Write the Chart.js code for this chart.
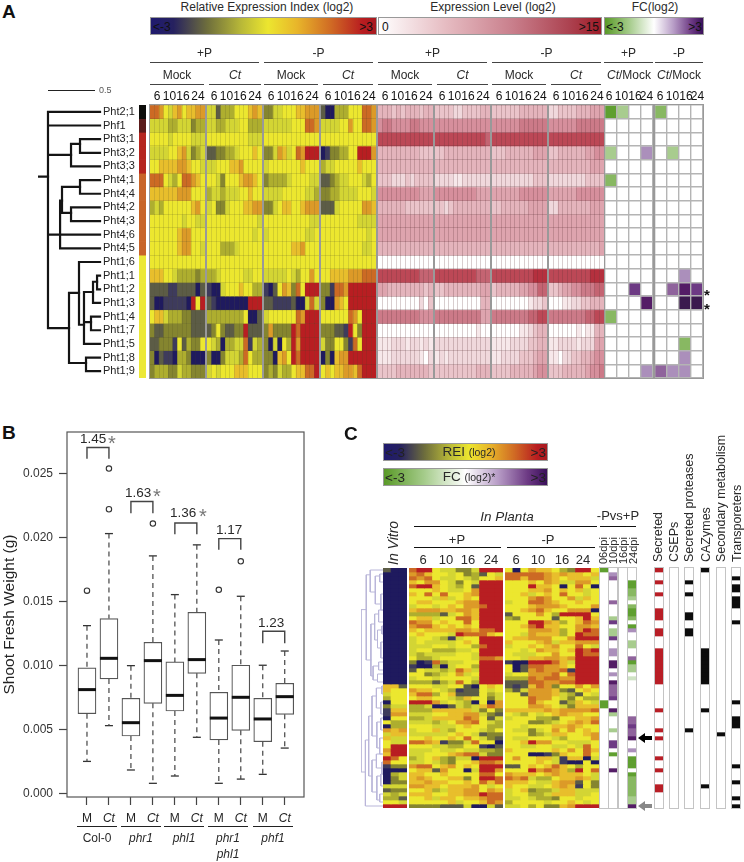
<!DOCTYPE html>
<html>
<head>
<meta charset="utf-8">
<title>Pht expression</title>
<script src="https://cdn.jsdelivr.net/npm/chart.js@4"></script>
<style>
  html, body { margin: 0; background: #fff; }
  #page { position: relative; width: 744px; height: 862px; overflow: hidden; font-family: "Liberation Sans", Arial, sans-serif; color: #2a2a2a; }
  #page canvas { position: absolute; }
  .t { position: absolute; white-space: nowrap; line-height: 1; }
  .ln { position: absolute; background: #444; }
  .bar { position: absolute; box-sizing: border-box; border: 1px solid #999; }
</style>
</head>
<body>
<div id="page"></div>
<script>
// panel A
const phtGenes = ['Pht2;1','Phf1','Pht3;1','Pht3;2','Pht3;3','Pht4;1','Pht4;4','Pht4;2','Pht4;3','Pht4;6','Pht4;5','Pht1;6','Pht1;1','Pht1;2','Pht1;3','Pht1;4','Pht1;7','Pht1;5','Pht1;8','Pht1;9'];
const timeLabels = ['6','10','16','24'];
const replicateCols = ['6a','6b','6c','10a','10b','10c','16a','16b','16c','24a','24b','24c'];
const geneGroups = ['k','m','r','r','r','o','o','o','o','o','o','y','y','y','y','y','y','y','y','y'];

// REI levels, 0 = <-3 ... a = >3
const reiPlusMock = ['998657867788','555544555344','666656666555','555566785345','667777887665','999654699876','777777888666','454666666786','666666656655','666666788666','666666788665','666666666666','777665444434','222211222202','200111110a6a','677544433222','322333333222','223331624336','302110443000','344433544333'];
const reiPlusCt = ['552444666787','554455566444','666666666555','223344566676','556667786666','665366678876','455455566766','563356667788','666666666665','666666666656','666444566666','666666666666','445666665566','100566676644','210000000aaa','444444446002','23632233a222','654044559154','300355549644','565666777666'];
const reiMinusMock = ['335566677888','555555666998','666666666666','335875698aaa','566666667666','344445666655','555566666554','335677667888','666666666655','566666666556','666666778666','666666666666','555556546686','102687396aaa','221111200595','566666698aaa','383333a9aaaa','305064a8aaaa','330786a9aaaa','34354467799a'];
const reiMinusCt = ['200444666998','555566866998','666666666666','01334466aaa8','455666667666','223455666546','334455556665','222566666887','666666665555','666666666656','666666666556','666666666666','667777888999','331998aaaaaa','300876aaaaaa','666666986aaa','333221a63aaa','533663196aaa','030788aaaaaa','676778879aaa'];

// expression levels, 0 = 0 ... a = >15
const expPlusMock = ['444343444344','677666677666','999999999999','444444444333','444444444444','333222323333','666666666555','444444333333','555555555555','555555555555','444444444444','000000000000','999999999888','554444444434','000000000203','777777777666','000000000000','111222122121','111222222102','333344444443'];
const expPlusCt = ['333322333344','666666666666','999999999998','334444444444','444444444444','222211222222','666666666555','332344444444','555555555555','555555555555','444444444444','000000000000','999999999888','334444444455','000000000044','777777777755','000000000100','222222222222','121222222222','333333333444'];
const expMinusMock = ['333333444444','666666777777','999999999999','333444444555','444444444444','222222222333','555555666666','334444445555','555555555555','555555555555','444444444444','000000000000','999999999aaa','344444556688','000000001223','777777778899','000000112344','111122223344','112222333455','333344444566'];
const expMinusCt = ['223333444555','666666777777','999999999999','334444445566','444444444555','222222223333','555555666666','224444444555','555555555555','555555555555','444444444445','000000000000','999999999aaa','334556677788','000112233444','777777778899','000000101144','112222122255','110223344566','333444445667'];

// fold change, '.' = not significant
const fcPlus = ['ac..','....','....','c..p','....','b...','....','....','....','....','....','....','....','..r.','...s','b...','....','....','....','...p'];
const fcMinus = ['b...','....','....','.c..','....','....','....','....','....','....','....','....','..p.','.qsr','..tt','....','....','..b.','..p.','qpp.'];

// dendrogram brackets: x of the stem, top row, bottom row, x end of top arm, x end of bottom arm
const treeA = [[0,5.25,5.25,.104,.104],[.104,.5,16.34,.646,.323],[.104,1.5,1.5,.646,.646],[.104,3.66,3.66,.344,.344],[.344,2.85,4.5,.4375,.646],[.4375,2.5,3.5,.646,.646],[.25,6,7.9,.4375,.344],[.4375,5.5,6.5,.646,.646],[.344,7.5,8.5,.646,.646],[.104,9.5,9.5,.646,.646],[.23,7,10.5,.25,.646],[.323,13.77,18.9,.427,.5],[.427,11.5,16.1,.646,.479],[.479,13.7,17.5,.573,.646],[.573,12.95,14.5,.615,.646],[.615,12.5,13.5,.646,.646],[.479,15.9,15.9,.552,.552],[.552,15.5,16.5,.646,.646],[.5,18.5,19.5,.646,.646]];
const treeC = [[0,10.4,51,.24,.2],[.24,1.7,23,.42,.45],[.42,.5,6,1,.65],[.65,2,9,.85,.9],[.85,1.5,3.5,1,1],[.9,6.5,10.5,1,1],[.45,14,27,.62,.55],[.62,11.5,18,.8,.75],[.8,10.5,13.5,1,1],[.75,15.5,20,.95,.9],[.95,14.5,16.5,1,1],[.9,18.5,22.5,1,1],[.55,24.5,28,.8,.75],[.8,23.5,25.5,1,1],[.75,26.5,28.5,1,1],[.2,43,59.5,.35,1],[.35,37,52,.5,.5],[.5,32,42,.7,.72],[.7,30,35,.95,.9],[.95,29.5,31.5,1,1],[.9,33.5,36.5,1,1],[.72,38.5,45,.9,.85],[.9,37.5,40.5,1,1],[.85,42.5,46.5,1,1],[.5,48,56,.7,.72],[.7,46.5,50,.95,.95],[.95,48.5,51.5,1,1],[.72,52,58,.9,.85],[.9,51.5,54.5,1,1],[.85,56.5,58.5,1,1]];

// panel B
const boxTicks = ['M','Ct','M','Ct','M','Ct','M','Ct','M','Ct'];
const boxPos = [1,2,3,4,5,6,7,8,9,10];
const boxLow = [.00252,.00531,.00185,.00081,.00138,.0044,.00081,.00114,.00151,.00356];
const boxQ1 = [.00624,.00895,.0045,.00705,.00645,.00939,.00419,.00494,.00406,.00619];
const boxMed = [.00812,.01056,.00554,.01038,.00767,.01046,.0059,.00752,.00583,.00757];
const boxQ3 = [.00981,.01366,.00744,.01181,.01028,.01415,.00791,.01002,.00744,.00861];
const boxHigh = [.01311,.02029,.00999,.01855,.01553,.01941,.01199,.0154,.01002,.01113];
const outlierX = [1,2,2,4,7,8];
const outlierY = [.01584,.02219,.02536,.02107,.0159,.01813];
const bracketLeft = [1,3,5,7,9];
const bracketFoot = [.02612,.02188,.02024,.01902,.01173];
const bracketTop = [.027,.02279,.02112,.0199,.01267];
const weightTicks = [0,.005,.01,.015,.02,.025];

// panel C, 60 genes
const inVitro = ['200','000','000','000','000','000','000','000','000','000','000','000','000','000','000','000','000','000','000','000','000','000','000','000','000','000','000','000','000','772','766','566','466','066','355','177','188','066','644','044','878','577','755','655','6aa','8aa','7aa','a96','966','133','000','045','035','033','555','233','545','442','665','aaa'];
const plantaPlus = ['9aa655335aaa','897665634265','989655654667','768865365aaa','9aa765462aaa','666765568aaa','769696678aaa','666575676aaa','677666788aaa','5665676889aa','788877887aaa','444425687aaa','677566997aaa','988676696aaa','899767676aaa','76777788799a','676665a99976','566541566aaa','565555676aaa','5556656649aa','566444556aaa','545555665aaa','644566665998','301945566aaa','100405664aaa','265545975aaa','663456856aaa','566566665aaa','444245964aaa','666556620676','877654122656','799467222645','677665476635','aaa856540608','445002545798','444777775363','555667788532','445777798625','555456889654','666555676644','566754666546','555556765233','667667696532','998713359660','666554466102','555655655443','556667899533','456743550aaa','556543667998','899678676aaa','677286605aa8','776676666996','787667736aa9','778776676979','887767778656','667457788687','777667788a99','667577677899','666667566798','333322250052'];
const plantaMinus = ['606877643aa6','999998787767','997998767775','666768755886','666a77606960','666778676756','667567696656','666898668576','566998766766','666788876668','667897668880','2666864aaaa6','4366662667a7','666aa8746798','6679a7766887','6668887468a9','665877746a99','677888668aaa','766678577888','566767866965','665687767a9a','655566866a99','665778878aaa','100aaa975aaa','602998876aaa','602898891aaa','566888969aaa','444989988aaa','222998899aaa','212798366868','425888732676','662888754265','666988653644','666976624765','666887653777','777778788889','654656787766','566644366778','666334567879','665666778766','655356868676','666345776678','655666546668','667a88665556','665566556596','766666768697','666001376696','686677517705','666676510060','226767976466','666a89874a69','877767877765','989544677875','777655788263','766556787163','567344577555','566445777556','556544366566','466665667656','556463378aaa'];
const dpiLabels = ['06dpi','10dpi','16dpi','24dpi'];
const fc06 = [[0,'a'],[33,'a'],[34,'a']];
const fc10 = [[1,'p'],[2,'q'],[8,'q'],[12,'c'],[13,'r'],[15,'c'],[16,'c'],[17,'r'],[20,'p'],[21,'p'],[23,'s'],[24,'s'],[26,'p'],[28,'s'],[29,'q'],[30,'q'],[31,'q'],[32,'r'],[35,'s'],[36,'c'],[40,'c'],[43,'r'],[44,'r'],[46,'a'],[50,'s']];
const fc16 = [];
const fc24 = [[3,'a'],[4,'a'],[5,'b'],[6,'b'],[7,'c'],[9,'b'],[10,'a'],[11,'a'],[12,'b'],[14,'a'],[15,'p'],[18,'c'],[19,'c'],[22,'q'],[23,'a'],[24,'c'],[25,'c'],[27,'d'],[37,'q'],[38,'q'],[39,'r'],[40,'q'],[41,'q'],[42,'s'],[45,'p'],[47,'a'],[48,'a'],[49,'a'],[51,'a'],[52,'b'],[53,'b'],[54,'b'],[55,'b'],[56,'b'],[57,'c'],[58,'c'],[59,'s']];
const secretedRows = [0,3,6,10,11,12,15,16,20,21,22,23,24,25,26,27,28,35,40,42,47,50,54,55];
const csepRows = [];
const proteaseRows = [3,6,11,12,15,16,40];
const cazymeRows = [0,20,21,22,23,24,25,26,27,28,35,54];
const secondaryRows = [41];
const transporterRows = [2,4,5,7,8,9,13,33,37,38,39,49,53,57,59];
const annotLabels = ['Secreted','CSEPs','Secreted proteases','CAZymes','Secondary metabolism','Transporeters'];

// colours
const reiColors = {0:'#1f1a5e',1:'#3e3b5c',2:'#5c5c46',3:'#85852f',4:'#aeae2f',5:'#d3d534',6:'#ece72f',7:'#e8be2c',8:'#dc9a28',9:'#cc6a24',a:'#b81e22'};
const expColors = {0:'#ffffff',1:'#f7e8ea',2:'#f0d8dc',3:'#eac4ca',4:'#e4b4bc',5:'#dea4ae',6:'#d68f9c',7:'#cc7a88',8:'#c46472',9:'#bc4856',a:'#b5303e'};
const fcColors = {'.':'#ffffff',a:'#5f9f30',b:'#88b862',c:'#a8cc8e',d:'#cfe3c4',p:'#ab8fbb',q:'#8f639c',r:'#6d3a84',s:'#541d66',t:'#3b1a4e'};
const groupColors = {k:'#0c0c0a',m:'#5a1a1a',r:'#b5251f',o:'#c8652a',y:'#ece838'};
const markColors = {'.':'#ffffff',R:'#b81e26',K:'#0c0c0c'};

const page = document.getElementById('page');

const txt = (html, x, y, o = {}) => {
  const el = document.createElement('div');
  el.className = 't';
  el.innerHTML = html;
  el.style.left = x + 'px';
  el.style.top = y + 'px';
  el.style.fontSize = (o.size || 12) + 'px';
  if (o.bold) el.style.fontWeight = 'bold';
  if (o.italic) el.style.fontStyle = 'italic';
  if (o.color) el.style.color = o.color;
  const shift = o.align === 'left' ? '0' : o.align === 'right' ? '-100%' : '-50%';
  el.style.transform = `translate(${shift},-50%)`;
  if (o.up) {
    el.style.transformOrigin = '0 0';
    el.style.transform = 'rotate(-90deg) translateY(-50%)';
  }
  page.appendChild(el);
};

const line = (x1, x2, y, h = 1.3, color) => {
  const el = document.createElement('div');
  el.className = 'ln';
  el.style.cssText = `left:${x1}px;top:${y}px;width:${x2 - x1}px;height:${h}px;` + (color ? `background:${color}` : '');
  page.appendChild(el);
};

const colorBar = (x, y, w, h, gradient) => {
  const el = document.createElement('div');
  el.className = 'bar';
  el.style.cssText = `left:${x}px;top:${y}px;width:${w}px;height:${h}px;background:linear-gradient(90deg,${gradient})`;
  page.appendChild(el);
};

const addCanvas = (x, y, w, h, frame) => {
  const c = document.createElement('canvas');
  c.width = w;
  c.height = h;
  c.style.cssText = `left:${x}px;top:${y}px;width:${w}px;height:${h}px;` + (frame ? `outline:1px solid ${frame};` : '');
  page.appendChild(c);
  return c;
};

// one floating bar per cell, rows are datasets
const heat = (x, y, w, h, rows, colors, o = {}) => {
  const cols = o.cols || [...rows[0]].map((_, i) => i);
  const showGrid = !!o.grid;
  return new Chart(addCanvas(x, y, w, h, o.frame), {
    type: 'bar',
    data: {
      labels: cols,
      datasets: rows.map((row, r) => ({
        data: cols.map(() => [r, r + 1]),
        backgroundColor: [...row].map(c => colors[c]),
        grouped: false,
        barPercentage: 1,
        categoryPercentage: 1,
        borderWidth: 0
      }))
    },
    options: {
      responsive: false,
      animation: false,
      events: [],
      layout: { padding: 0, autoPadding: false },
      plugins: { legend: { display: false }, tooltip: { enabled: false } },
      scales: {
        x: { display: showGrid, ticks: { display: false }, border: { display: false }, grid: { z: 1, color: o.grid, lineWidth: o.gridWidth || 1, drawTicks: false } },
        y: { display: showGrid, reverse: true, min: 0, max: rows.length, ticks: { display: false, stepSize: 1, autoSkip: false }, border: { display: false }, grid: { z: 1, color: o.grid, lineWidth: o.gridWidth || 1, drawTicks: false } }
      }
    }
  });
};

const zeroPad = axis => {
  axis.paddingTop = 0; axis.paddingBottom = 0; axis.paddingLeft = 0; axis.paddingRight = 0;
};

const dendrogram = (x, y, w, h, brackets, o) => {
  const rowCount = o.rows;
  const yAxis = {
    reverse: true, min: 0, max: rowCount,
    display: !!o.labels,
    position: 'right',
    grid: { display: false, drawTicks: false },
    border: { display: false },
    afterBuildTicks: axis => { if (o.labels) axis.ticks = o.labels.map((_, i) => ({ value: i + .5 })); },
    afterFit: axis => { zeroPad(axis); if (o.labels) axis.width = o.labelWidth; },
    ticks: {
      autoSkip: false, padding: 0, color: '#222',
      font: { size: 11, family: '"Liberation Sans", Arial' },
      callback: v => o.labels ? o.labels[v - .5] : ''
    }
  };
  return new Chart(addCanvas(x, y, w, h), {
    type: 'scatter',
    data: {
      datasets: brackets.map(b => ({
        data: [{ x: b[3], y: b[1] }, { x: b[0], y: b[1] }, { x: b[0], y: b[2] }, { x: b[4], y: b[2] }],
        showLine: true, pointRadius: 0, borderColor: o.color, borderWidth: o.width, tension: 0, borderCapStyle: 'square', clip: false
      }))
    },
    options: {
      responsive: false, animation: false, events: [],
      layout: { padding: 0, autoPadding: false },
      plugins: { legend: { display: false }, tooltip: { enabled: false } },
      scales: { x: { display: false, min: 0, max: o.xMax }, y: yAxis }
    }
  });
};

// ---- panel A ----
txt('A', 2, 11, { size: 19, bold: true, align: 'left', color: '#111' });
txt('Relative Expression Index (log2)', 267, 7, { size: 12 });
txt('Expression Level (log2)', 493, 7, { size: 12 });
txt('FC(log2)', 655, 7, { size: 12 });
const reiGradient = '#1f1a6e 0,#26215f 10%,#6e6e3c 25%,#b8b838 40%,#ece62f 52%,#e8b52a 65%,#d06a24 80%,#b81c20 94%,#a81a20 100%';
colorBar(150, 17, 227, 18, reiGradient);
colorBar(378, 17, 224, 18, '#fff 0,#e6bcc2 30%,#c97f8c 60%,#ad4452 85%,#9e1c28 100%');
colorBar(604, 17, 100, 18, '#5a9a28 0,#a6cc8c 25%,#fff 50%,#b79cc6 70%,#6d3a84 88%,#3a0f5a 100%');
txt('&lt;-3', 153, 27, { align: 'left', size: 12, color: '#111' });
txt('&gt;3', 373, 27, { align: 'right', size: 12, color: '#111' });
txt('0', 382, 27, { align: 'left', size: 12, color: '#111' });
txt('&gt;15', 599, 27, { align: 'right', size: 12, color: '#111' });
txt('&lt;-3', 606, 27, { align: 'left', size: 12, color: '#111' });
txt('&gt;3', 702, 27, { align: 'right', size: 12, color: '#111' });

const blockLefts = [150, 207, 264, 321, 378, 435, 492, 549];
const reiBlocks = [reiPlusMock, reiPlusCt, reiMinusMock, reiMinusCt];
const expBlocks = [expPlusMock, expPlusCt, expMinusMock, expMinusCt];
reiBlocks.forEach((b, i) => heat(blockLefts[i], 105, 55, 273, b, reiColors, { cols: replicateCols, grid: 'rgba(70,70,40,.16)', frame: '#999' }));
expBlocks.forEach((b, i) => heat(blockLefts[i + 4], 105, 55, 273, b, expColors, { cols: replicateCols, grid: 'rgba(90,50,55,.24)', frame: '#999' }));
heat(605, 105, 48, 273, fcPlus, fcColors, { grid: '#b4b4b4', gridWidth: 1.4, frame: '#999' });
heat(655, 105, 48, 273, fcMinus, fcColors, { grid: '#b4b4b4', gridWidth: 1.4, frame: '#999' });
heat(139, 105, 7, 273, geneGroups, groupColors);
dendrogram(38, 105, 101, 273, treeA, { rows: 20, labels: phtGenes, labelWidth: 36, xMax: .677, color: '#141414', width: 2.2 });

[[150, 259, '+P'], [264, 373, '-P'], [378, 487, '+P'], [492, 601, '-P'], [604, 653, '+P'], [655, 703, '-P']].forEach(g => {
  txt(g[2], (g[0] + g[1]) / 2, 53, { size: 12 });
  line(g[0], g[1], 62);
});
[[150, 204, 'Mock'], [209, 261, '<i>Ct</i>'], [264, 318, 'Mock'], [323, 373, '<i>Ct</i>'], [378, 432, 'Mock'], [437, 488, '<i>Ct</i>'], [492, 546, 'Mock'], [551, 601, '<i>Ct</i>']].forEach(g => {
  txt(g[2], (g[0] + g[1]) / 2, 75, { size: 12 });
  line(g[0], g[1], 84);
});
txt('<i>Ct</i>/Mock', 629, 75, { size: 12 });
txt('<i>Ct</i>/Mock', 679, 75, { size: 12 });
const timeOffsets = [7, 19.5, 33, 48];
blockLefts.forEach(x => timeLabels.forEach((t, i) => txt(t, x + timeOffsets[i], 96, { size: 12, color: '#111' })));
[604, 655].forEach(x => timeLabels.forEach((t, i) => txt(t, x + [5, 17.5, 31, 42.5][i], 96, { size: 12, color: '#111' })));
line(48, 95, 89.5, 1.3, '#222');
txt('0.5', 99, 90, { size: 9, align: 'left', color: '#555' });
txt('*', 707, 294, { size: 15, bold: true, color: '#111' });
txt('*', 707, 308, { size: 15, bold: true, color: '#111' });

// ---- panel B ----
txt('B', 2, 432, { size: 19, bold: true, align: 'left', color: '#111' });
const boxDatasets = [];
boxPos.forEach((x, i) => {
  [[boxHigh[i], boxQ3[i]], [boxQ1[i], boxLow[i]]].forEach(seg => boxDatasets.push({
    type: 'scatter',
    data: seg.map(y => ({ x, y })),
    showLine: true, pointRadius: 0, borderColor: '#444', borderWidth: 1.2, borderDash: [5, 4]
  }));
});
boxDatasets.push({
  type: 'scatter',
  data: boxPos.flatMap((x, i) => [{ x, y: boxLow[i] }, { x, y: boxHigh[i] }]),
  pointStyle: 'line', pointRadius: 4, pointBorderColor: '#333', pointBorderWidth: 1.3
});
boxDatasets.push({
  type: 'bar',
  data: boxPos.map((x, i) => ({ x, y: [boxQ1[i], boxQ3[i]] })),
  backgroundColor: '#fff', borderColor: '#555', borderWidth: 1.2, borderSkipped: false, barThickness: 18, grouped: false
});
boxDatasets.push({
  type: 'scatter',
  data: boxPos.map((x, i) => ({ x, y: boxMed[i] })),
  pointStyle: 'line', pointRadius: 9, pointBorderColor: '#111', pointBorderWidth: 3, order: -1
});
boxDatasets.push({
  type: 'scatter',
  data: outlierX.map((x, i) => ({ x, y: outlierY[i] })),
  pointStyle: 'circle', pointRadius: 2.7, pointBackgroundColor: '#fff', pointBorderColor: '#333', pointBorderWidth: 1.1
});
bracketLeft.forEach((x, i) => boxDatasets.push({
  type: 'scatter',
  data: [{ x, y: bracketFoot[i] }, { x, y: bracketTop[i] }, { x: x + 1, y: bracketTop[i] }, { x: x + 1, y: bracketFoot[i] }],
  showLine: true, pointRadius: 0, borderColor: '#444', borderWidth: 1.4
}));
const plotFrame = {
  id: 'plotFrame',
  afterDatasetsDraw(chart) {
    const a = chart.chartArea;
    chart.ctx.save();
    chart.ctx.strokeStyle = '#555';
    chart.ctx.lineWidth = 1.2;
    chart.ctx.strokeRect(a.left, a.top, a.right - a.left, a.bottom - a.top);
    chart.ctx.restore();
  }
};
new Chart(addCanvas(0, 427, 310, 420), {
  type: 'scatter',
  data: { datasets: boxDatasets },
  plugins: [plotFrame],
  options: {
    responsive: false, animation: false, events: [],
    layout: { padding: { top: 5, right: 6, left: 0, bottom: 0 }, autoPadding: false },
    plugins: { legend: { display: false }, tooltip: { enabled: false } },
    scales: {
      x: {
        type: 'linear', min: .0909, max: 10.877, offset: false,
        afterBuildTicks: axis => { axis.ticks = boxPos.map(value => ({ value })); },
        afterFit: axis => { zeroPad(axis); axis.height = 50; },
        grid: { offset: false, drawOnChartArea: false, tickLength: 8, tickColor: '#444', tickWidth: 1.2 },
        border: { display: false },
        ticks: {
          autoSkip: false, maxRotation: 0, padding: 6, color: '#222',
          font: c => ({ size: 12, family: '"Liberation Sans", Arial', style: c.index % 2 ? 'italic' : 'normal' }),
          callback: v => boxTicks[v - 1]
        }
      },
      y: {
        min: -.000257, max: .028214,
        afterBuildTicks: axis => { axis.ticks = weightTicks.map(value => ({ value })); },
        afterFit: axis => { zeroPad(axis); axis.width = 67; },
        grid: { drawOnChartArea: false, tickLength: 8, tickColor: '#444', tickWidth: 1.2 },
        border: { display: false },
        title: { display: true, text: 'Shoot Fresh Weight (g)', color: '#222', padding: 0, font: { size: 15.5, family: '"Liberation Sans", Arial' } },
        ticks: { padding: 6, color: '#333', font: { size: 12, family: '"Liberation Sans", Arial' }, callback: v => v.toFixed(3) }
      }
    }
  }
});
[[80, 439, '1.45', 108, 443], [125, 493, '1.63', 153, 496], [170, 513, '1.36', 199, 516], [216, 530, '1.17'], [258, 623, '1.23']].forEach(f => {
  txt(f[2], f[0], f[1], { size: 13.5, align: 'left' });
  if (f[3]) txt('*', f[3], f[4], { size: 20, align: 'left', color: '#777' });
});
[[77, 117, 'Col-0', 0], [121, 161, 'phr1', 1], [164, 204, 'phl1', 1], [208, 248, 'phr1', 1], [253, 293, 'phf1', 1]].forEach(g => {
  line(g[0], g[1], 826, 1.2, '#222');
  txt(g[2], (g[0] + g[1]) / 2, 838, { size: 12, italic: !!g[3] });
});
txt('phl1', 228, 854, { size: 12, italic: true });

// ---- panel C ----
txt('C', 344, 433, { size: 19, bold: true, align: 'left', color: '#111' });
colorBar(383, 443, 165, 18, reiGradient);
colorBar(383, 468, 165, 18, '#5a9a28 0,#a6cc8c 25%,#fff 50%,#b79cc6 70%,#6d3a84 88%,#3a0f5a 100%');
txt('&lt;-3', 385, 453, { size: 13.5, align: 'left', color: '#222' });
txt('&gt;3', 546, 453, { size: 13.5, align: 'right', color: '#222' });
txt('REI <span style="font-size:10.5px">(log2)</span>', 469, 452, { size: 13.5 });
txt('&lt;-3', 385, 478, { size: 13.5, align: 'left', color: '#222' });
txt('&gt;3', 546, 478, { size: 13.5, align: 'right', color: '#222' });
txt('FC <span style="font-size:10.5px">(log2)*</span>', 469, 477, { size: 13.5 });

txt('In Planta', 507, 517, { size: 13.5, italic: true });
line(414, 597, 526, 1.3, '#111');
txt('-Pvs+P', 618, 515, { size: 13 });
line(600, 636, 526, 1.3, '#111');
txt('+P', 457, 539, { size: 13 });
line(414, 501, 547, 1.3, '#111');
txt('-P', 548, 539, { size: 13 });
line(507, 595, 547, 1.3, '#111');
[423, 446, 468, 491].forEach((x, i) => txt(timeLabels[i], x, 559, { size: 13 }));
[516, 538, 562, 583].forEach((x, i) => txt(timeLabels[i], x, 559, { size: 13 }));
txt('In Vitro', 393, 565, { size: 14, italic: true, up: true });

heat(383, 568, 24, 240, inVitro, reiColors);
heat(409, 568, 94, 240, plantaPlus, reiColors);
heat(505, 568, 94, 240, plantaMinus, reiColors);
dendrogram(361, 568, 22, 240, treeC, { rows: 60, xMax: 1, color: '#b9b6d9', width: 1 });

const blankRows = () => Array.from({ length: 60 }, () => '.');
const fcStrip = pairs => {
  const rows = blankRows();
  pairs.forEach(p => { rows[p[0]] = p[1]; });
  return rows;
};
const markStrip = (idx, ch) => {
  const rows = blankRows();
  idx.forEach(i => { rows[i] = ch; });
  return rows;
};
[[600, fc06], [609, fc10], [619, fc16], [628, fc24]].forEach(s => heat(s[0], 568, 8, 240, fcStrip(s[1]), fcColors, { frame: '#c4c4c4' }));
dpiLabels.forEach((t, i) => txt(t, 603 + i * 10, 564, { size: 11, up: true }));

[[655, secretedRows, 'R'], [670, csepRows, 'K'], [685, proteaseRows, 'K'], [701, cazymeRows, 'K'], [717, secondaryRows, 'K'], [732, transporterRows, 'K']].forEach(s => {
  heat(s[0], 568, 8, 240, markStrip(s[1], s[2]), markColors, { frame: '#c4c4c4' });
});
[658, 674, 689, 706, 721, 737].forEach((x, i) => txt(annotLabels[i], x, 562, { size: 12.5, up: true }));

const arrows = document.createElementNS('http://www.w3.org/2000/svg', 'svg');
arrows.setAttribute('width', 744);
arrows.setAttribute('height', 862);
arrows.style.cssText = 'position:absolute;left:0;top:0;pointer-events:none';
arrows.innerHTML = '<path d="M638 738l7-5v3h7v4h-7v3z" fill="#000"/><path d="M638 806l7-5v3h7v4h-7v3z" fill="#888"/>';
page.appendChild(arrows);
</script>
</body>
</html>
